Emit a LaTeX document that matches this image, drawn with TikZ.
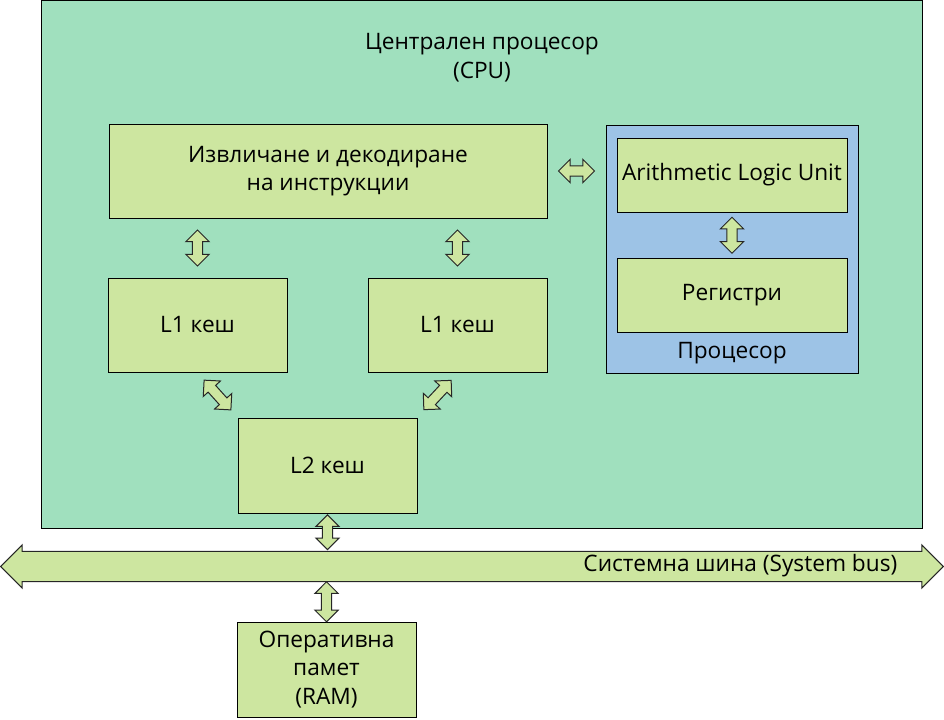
\documentclass[tikz,border=0pt]{standalone}
\usepackage{fontspec}
\setmainfont{Open Sans}
\usepackage{xcolor}
\usepackage{tikz}
\usetikzlibrary{
    positioning,
    calc,
    shapes.arrows,
}
\definecolor{cpumint}{RGB}{160,224,190}
\definecolor{boxgreen}{RGB}{205,230,160}
\definecolor{procblue}{RGB}{157,195,230}
\tikzset{
    % Box styles
    block/.style={rectangle, draw=black, line width=0.75pt, fill=boxgreen,
                  align=center, inner sep=0pt, font=\fontsize{17}{21.5}\selectfont},
    cpu frame/.style={block, fill=cpumint},
    proc frame/.style={block, fill=procblue},
    % Block arrow styles
    link/.style={double arrow, draw=black!85, fill=boxgreen, line width=0.75pt,
                 inner sep=3.4pt, minimum width=0pt, double arrow head extend=4.9pt,
                 double arrow tip angle=90, minimum height=27pt},
    bus/.style={link, inner sep=10.9pt, double arrow head extend=4.9pt, minimum height=707pt},
    % Text styles
    label text/.style={align=center, font=\fontsize{17}{21.5}\selectfont},
}

\begin{document}
\begin{tikzpicture}[x=0.75pt, y=-0.75pt]
    \useasboundingbox (0,0) rectangle (944,719);

    % CPU frame
    \node[cpu frame, minimum width=660.75pt, minimum height=396pt] (cpu) at (481.5,264) {};
    \node[label text] (cputitle) at (482,58) {Централен процесор\\(CPU)};

    % Fetch and decode
    \node[block, minimum width=328.5pt, minimum height=70.5pt] (fetch) at (328,171)
        {Извличане и декодиране\\на инструкции};

    % Processor
    \node[proc frame, minimum width=189pt, minimum height=186pt] (proc) at (732,249) {};
    \node[block, minimum width=172.5pt, minimum height=55.5pt] (alu) at (732,175) {Arithmetic Logic Unit};
    \node[block, minimum width=172.5pt, minimum height=55.5pt] (reg) at (732,295.5) {Регистри};
    \node[label text] (proclbl) at (732,353) {Процесор};

    % Caches
    \node[block, minimum width=134.25pt, minimum height=70.5pt] (l1a) at (197.5,325) {L1 кеш};
    \node[block, minimum width=134.25pt, minimum height=70.5pt] (l1b) at (457.5,325) {L1 кеш};
    \node[block, minimum width=134.25pt, minimum height=71.25pt] (l2) at (327.5,465.5) {L2 кеш};

    % System bus
    \node[bus] (sysbus) at (472,566.5) {};
    \node[label text, anchor=east] (buslbl) at (902,566) {Системна шина (System bus)};

    % RAM
    \node[block, minimum width=134.25pt, minimum height=71.25pt] (ram) at (326.5,669.5)
        {Оперативна\\памет\\(RAM)};

    % Links
    \node[link] (fa) at ($(fetch.east)!0.5!(fetch.east -| proc.west)$) {};
    \node[link, rotate=90] (ar) at ($(alu.south)!0.5!(reg.north)$) {};
    \node[link, rotate=90] (f1) at ($(l1a.north)!0.5!(l1a.north |- fetch.south)$) {};
    \node[link, rotate=90] (f2) at ($(l1b.north)!0.5!(l1b.north |- fetch.south)$) {};
    \node[link, rotate=-48, minimum height=30pt] (c1) at ($(l1a.south)!0.5!(l2.north west)$) {};
    \node[link, rotate=47, minimum height=30pt] (c2) at ($(l1b.south)!0.5!(l2.north east)$) {};
    \node[link, rotate=90, minimum height=26pt] (lb) at ($(l2.south)!0.5!(l2.south |- sysbus.north)$) {};
    \node[link, rotate=90, minimum height=30pt] (br) at ($(ram.north)!0.5!(ram.north |- sysbus.south)$) {};
\end{tikzpicture}
\end{document}
